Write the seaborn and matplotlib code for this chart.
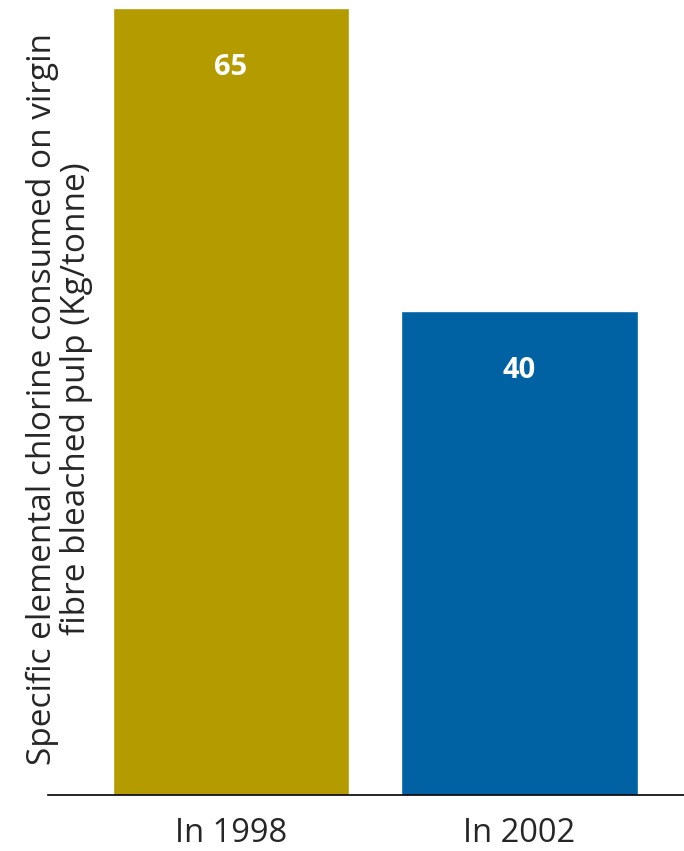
import matplotlib
matplotlib.use("Agg")
import matplotlib.pyplot as plt
import seaborn as sns
import pandas as pd

categories = ["In 1998", "In 2002"]
values = [65, 40]
colors = ["#B39B00", "#0062A3"]
ylabel = "Specific elemental chlorine consumed on virgin\nfibre bleached pulp (Kg/tonne)"

sns.set_style("white")
plt.rcParams['font.family'] = ['Open Sans', 'DejaVu Sans']

df = pd.DataFrame({"cat": categories, "val": values})

fig = plt.figure(figsize=(6.84, 8.51), dpi=100)
ax = fig.add_axes([48/684, 1 - 795/851, (684-48)/684, (795-8)/851])
sns.barplot(data=df, x="cat", y="val", hue="cat", palette=colors, width=0.818,
            saturation=1, legend=False, ax=ax)
ax.set_ylim(0, 65)
ax.set_xlim(-0.634, 1.570)
for i, v in enumerate(values):
    ax.text(i, v - 4.9, f"{v}", ha="center", va="center", color="white",
            fontsize=21, fontweight="bold")
for s in ["top", "right", "left"]:
    ax.spines[s].set_visible(False)
ax.spines["bottom"].set_color("black")
ax.spines["bottom"].set_linewidth(1.2)
ax.set_yticks([])
ax.set_xlabel("")
ax.set_ylabel(ylabel, fontsize=24, linespacing=1.05)
ax.yaxis.set_label_coords(0.071, 0.503)
ax.tick_params(axis="x", length=0, labelsize=23.5, pad=16)
fig.savefig("out.png", dpi=100)
